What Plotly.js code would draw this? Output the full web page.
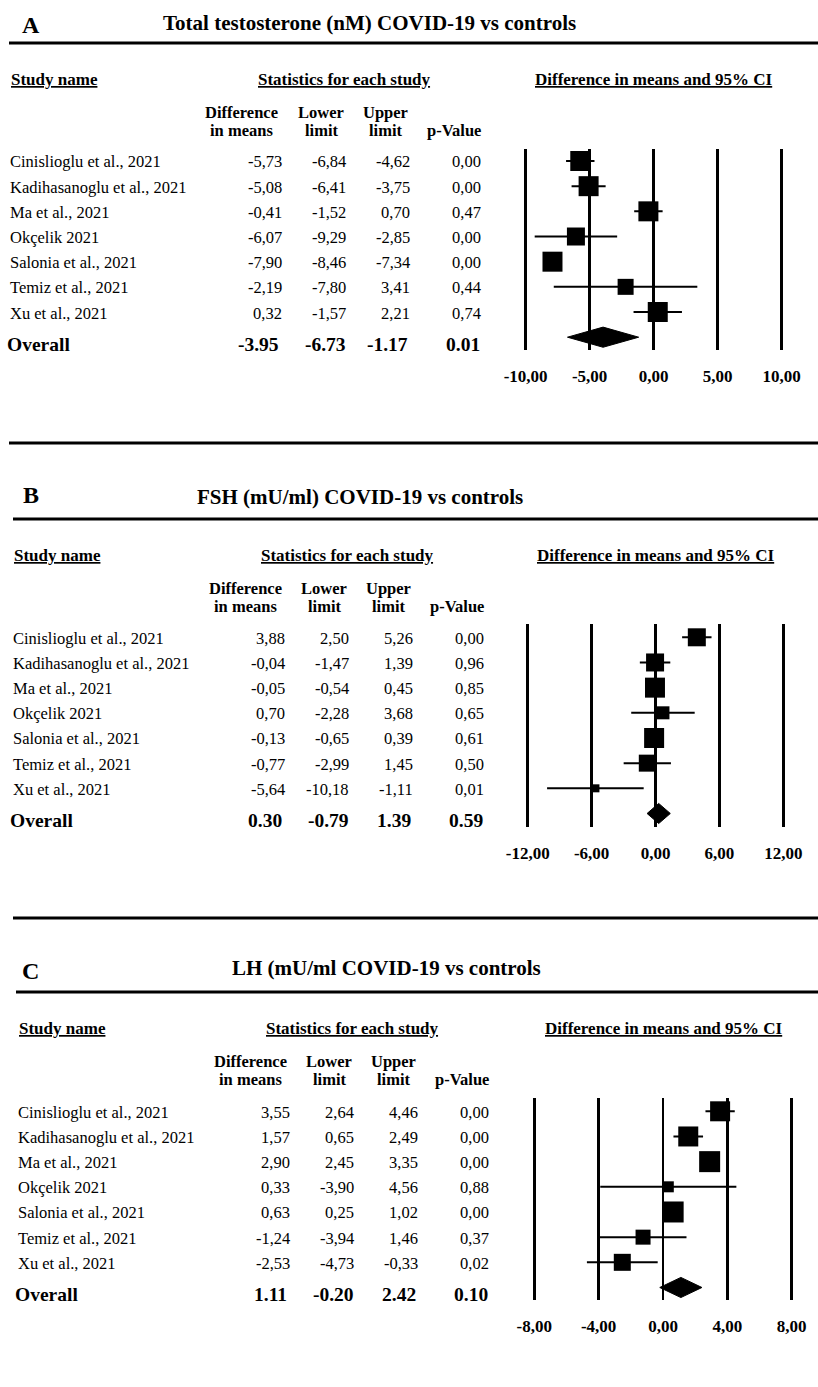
<!DOCTYPE html>
<html><head><meta charset="utf-8">
<script src="https://cdn.plot.ly/plotly-3.0.1.min.js"></script>
<style>html,body{margin:0;padding:0;background:#fff}</style>
</head><body><div id="chart" style="width:818px;height:1387px"></div>
<script>
// ---------------- DATA ----------------
const studies = ["Cinislioglu et al., 2021","Kadihasanoglu et al., 2021","Ma et al., 2021","Okçelik 2021","Salonia et al., 2021","Temiz et al., 2021","Xu et al., 2021"];

// Panel A: Total testosterone (nM)
const diffA  = [-5.73,-5.08,-0.41,-6.07,-7.90,-2.19, 0.32];
const lowerA = [-6.84,-6.41,-1.52,-9.29,-8.46,-7.80,-1.57];
const upperA = [-4.62,-3.75, 0.70,-2.85,-7.34, 3.41, 2.21];
const pA     = [ 0.00, 0.00, 0.47, 0.00, 0.00, 0.44, 0.74];
const overallA = [-3.95,-6.73,-1.17,0.01];   // diff, lower, upper, p
const weightA = [20,20,20,18,20,16,20];       // square size
const ticksA = [-10,-5,0,5,10];

// Panel B: FSH (mU/ml)
const diffB  = [ 3.88,-0.04,-0.05, 0.70,-0.13,-0.77, -5.64];
const lowerB = [ 2.50,-1.47,-0.54,-2.28,-0.65,-2.99,-10.18];
const upperB = [ 5.26, 1.39, 0.45, 3.68, 0.39, 1.45, -1.11];
const pB     = [ 0.00, 0.96, 0.85, 0.65, 0.61, 0.50,  0.01];
const overallB = [0.30,-0.79,1.39,0.59];
const weightB = [18,18,20,13,20,17,8];
const ticksB = [-12,-6,0,6,12];

// Panel C: LH (mU/ml)
const diffC  = [ 3.55, 1.57, 2.90, 0.33, 0.63,-1.24,-2.53];
const lowerC = [ 2.64, 0.65, 2.45,-3.90, 0.25,-3.94,-4.73];
const upperC = [ 4.46, 2.49, 3.35, 4.56, 1.02, 1.46,-0.33];
const pC     = [ 0.00, 0.00, 0.00, 0.88, 0.00, 0.37, 0.02];
const overallC = [1.11,-0.20,2.42,0.10];
const weightC = [20,20,21,11,21,15,17];
const ticksC = [-8,-4,0,4,8];

// ---------------- LAYOUT GEOMETRY ----------------
const W = 818, H = 1387;
const fx = px => px / W;
const fy = py => 1 - py / H;
const FONT = "Liberation Serif, Times New Roman, serif";
const STEP = 25.17;

const panels = [
  {letter:'A', title:'Total testosterone (nM) COVID-19 vs controls',
   diff:diffA, lower:lowerA, upper:upperA, p:pA, overall:overallA, w:weightA, ticks:ticksA,
   g:{dx:0, letterY:25, titleX:162, titleY:23, hdrY:79, colY:112, stat:344, ci:654,
      tMin:525.6, tMax:781.7, top:149, bottom:350, row0:161}},
  {letter:'B', title:'FSH (mU/ml) COVID-19 vs controls',
   diff:diffB, lower:lowerB, upper:upperB, p:pB, overall:overallB, w:weightB, ticks:ticksB,
   g:{dx:3, letterY:495, titleX:196, titleY:497, hdrY:555, colY:588, stat:347, ci:656,
      tMin:527.7, tMax:783.3, top:624, bottom:827, row0:637.3}},
  {letter:'C', title:'LH (mU/ml COVID-19 vs controls',
   diff:diffC, lower:lowerC, upper:upperC, p:pC, overall:overallC, w:weightC, ticks:ticksC,
   g:{dx:8, letterY:971, titleX:231, titleY:968, hdrY:1028, colY:1061, stat:352, ci:664,
      tMin:534.3, tMax:791.7, top:1098, bottom:1300, row0:1111.3}}
];

const rules = [
  {y:43, x0:9}, {y:443, x0:9}, {y:519, x0:13}, {y:918, x0:13}, {y:992, x0:16}
];

const fmtC = v => v.toFixed(2).replace('.', ',');
const fmtD = v => v.toFixed(2);

const traces = [];
const annotations = [];
const layout = {
  width: W, height: H, margin:{l:0,r:0,t:0,b:0},
  paper_bgcolor:'#fff', plot_bgcolor:'rgba(0,0,0,0)', showlegend:false,
  font:{family:FONT, color:'#000'},
  shapes: rules.map(r => ({type:'line', xref:'paper', yref:'paper',
    x0:fx(r.x0), x1:1, y0:fy(r.y), y1:fy(r.y), line:{color:'#000', width:3}})),
  annotations: annotations
};

function ann(o){
  annotations.push(Object.assign({showarrow:false, xref:'paper', yref:'paper',
    xanchor:'left', yanchor:'middle', borderpad:0}, o));
}

panels.forEach((P, k) => {
  const n = k === 0 ? '' : String(k+1);
  const xa = 'x' + n, ya = 'y' + n;
  const g = P.g, dx = g.dx;
  const vMin = P.ticks[0], vMax = P.ticks[P.ticks.length-1];
  const s = (g.tMax - g.tMin) / (vMax - vMin);
  const pad = 8;
  layout['xaxis' + n] = {
    domain:[fx(g.tMin - pad), fx(g.tMax + pad)],
    range:[vMin - pad/s, vMax + pad/s], fixedrange:true,
    tickmode:'array', tickvals:P.ticks, ticktext:P.ticks.map(v => '<b>' + fmtC(v) + '</b>'),
    showgrid:true, gridcolor:'#000', gridwidth:2.6, zeroline:false, showline:false,
    ticks:'outside', ticklen:11, tickcolor:'rgba(0,0,0,0)',
    tickfont:{family:FONT, size:17, color:'#000'}, anchor:ya
  };
  layout['yaxis' + n] = {
    domain:[fy(g.bottom), fy(g.top)],
    range:[(g.bottom - g.row0)/STEP, (g.top - g.row0)/STEP], fixedrange:true,
    showgrid:false, zeroline:false, showline:false, showticklabels:false, ticks:'',
    anchor:xa
  };
  const idx = studies.map((_, i) => i);
  // squares with CI whiskers
  traces.push({
    type:'scatter', mode:'markers', xaxis:xa, yaxis:ya,
    x:P.diff, y:idx,
    marker:{symbol:'square', size:P.w, color:'#000', opacity:1, line:{width:0}},
    error_x:{type:'data', symmetric:false,
      array:P.upper.map((u,i) => u - P.diff[i]),
      arrayminus:P.lower.map((l,i) => P.diff[i] - l),
      color:'#000', thickness:2, width:0},
    hoverinfo:'skip', cliponaxis:false
  });
  // overall diamond
  const ov = P.overall, yo = studies.length, h = 0.4;
  traces.push({
    type:'scatter', mode:'lines', xaxis:xa, yaxis:ya,
    x:[ov[1], ov[0], ov[2], ov[0], ov[1]],
    y:[yo, yo - h, yo, yo + h, yo],
    fill:'toself', fillcolor:'#000', line:{color:'#000', width:1},
    hoverinfo:'skip'
  });

  // Panel letter and title
  ann({x:fx(30.5), y:fy(g.letterY), xanchor:'center', text:'<b>' + P.letter + '</b>',
       font:{family:FONT, size:24, color:'#000'}});
  ann({x:fx(g.titleX), y:fy(g.titleY), text:'<b>' + P.title + '</b>',
       font:{family:FONT, size:21, color:'#000'}});
  // underlined headers
  const hf = {family:FONT, size:17, color:'#000'};
  ann({x:fx(10 + dx), y:fy(g.hdrY), text:'<b><u>Study name</u></b>', font:hf});
  ann({x:fx(g.stat), y:fy(g.hdrY), xanchor:'center', text:'<b><u>Statistics for each study</u></b>', font:hf});
  ann({x:fx(g.ci), y:fy(g.hdrY), xanchor:'center', text:'<b><u>Difference in means and 95% CI</u></b>', font:hf});
  // column headers (two lines each)
  const cf = {family:FONT, size:16.5, color:'#000'};
  const y1 = g.colY, y2 = g.colY + 18;
  [['Difference','in means',242],['Lower','limit',321],['Upper','limit',385]].forEach(h2 => {
    ann({x:fx(h2[2] + dx), y:fy(y1), xanchor:'center', text:'<b>' + h2[0] + '</b>', font:cf});
    ann({x:fx(h2[2] + dx), y:fy(y2), xanchor:'center', text:'<b>' + h2[1] + '</b>', font:cf});
  });
  ann({x:fx(454 + dx), y:fy(y2), xanchor:'center', text:'<b>p-Value</b>', font:cf});

  // rows
  const rf = {family:FONT, size:16.5, color:'#000'};
  const cols = [283, 347, 411, 482];
  studies.forEach((name, i) => {
    ann({x:fx(9 + dx), y:i, yref:ya, text:name, font:rf, yshift:-1});
    const vals = [P.diff[i], P.lower[i], P.upper[i], P.p[i]];
    vals.forEach((v, c) => ann({x:fx(cols[c] + dx), y:i, yref:ya, xanchor:'right',
      text:fmtC(v), font:rf, yshift:-1}));
  });
  // overall row
  const of = {family:FONT, size:19.5, color:'#000'};
  ann({x:fx(6 + dx), y:yo, yref:ya, text:'<b>Overall</b>', font:of, yshift:-7});
  const ocols = [280, 347, 409, 481];
  ov.forEach((v, c) => ann({x:fx(ocols[c] + dx), y:yo, yref:ya, xanchor:'right',
    text:'<b>' + fmtD(v) + '</b>', font:of, yshift:-7}));
});

Plotly.newPlot('chart', traces, layout, {staticPlot:true, displayModeBar:false});
</script>
</body></html>
